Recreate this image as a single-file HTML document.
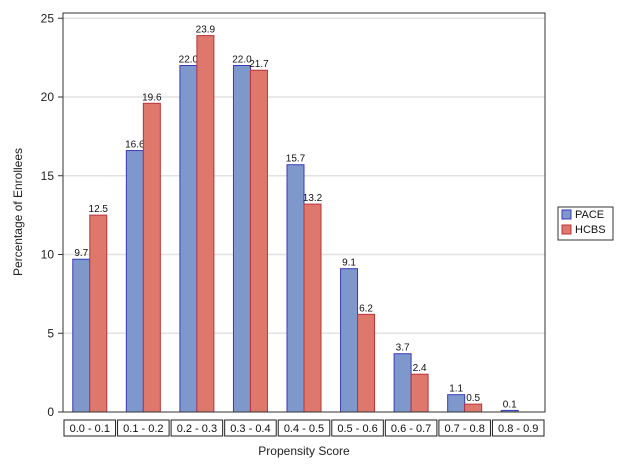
<!DOCTYPE html>
<html><head><meta charset="utf-8"><style>
body{margin:0;background:#fff;font-family:"Liberation Sans",Arial,sans-serif}
svg text{font-family:"Liberation Sans",Arial,sans-serif}
</style></head><body>
<svg id="c" width="626" height="470" xmlns="http://www.w3.org/2000/svg"></svg>
<script>
const categories=["0.0 - 0.1","0.1 - 0.2","0.2 - 0.3","0.3 - 0.4","0.4 - 0.5","0.5 - 0.6","0.6 - 0.7","0.7 - 0.8","0.8 - 0.9"];
const pace=[9.7,16.6,22.0,22.0,15.7,9.1,3.7,1.1,0.1];
const hcbs=[12.5,19.6,23.9,21.7,13.2,6.2,2.4,0.5,0];
const yTicks=[0,5,10,15,20,25];
const svg=document.getElementById('c');
const NS='http://www.w3.org/2000/svg';
const L=63,R=545,T=13,B=412;
const y=v=>B-v*15.75;
const gw=(R-L)/categories.length;
const xc=i=>L+gw*(i+0.5);
function mk(t,a,txt){const e=document.createElementNS(NS,t);for(const k in a)e.setAttribute(k,a[k]);if(txt!==undefined)e.textContent=txt;svg.appendChild(e);return e;}
yTicks.forEach(v=>{
 if(v>0){const g=mk('line',{x1:L,x2:R,y1:y(v),y2:y(v),stroke:'#e2e2e2','stroke-width':1.5});
 
 }
 const t=mk('line',{x1:L-5,x2:L,y1:y(v),y2:y(v),stroke:'#333'});
 
 
 const l=mk('text',{x:L-9,y:y(v)+4,'text-anchor':'end','font-size':12,fill:'#222'},v);
 
 
});
const bw=17;
categories.forEach((c,i)=>{
 const cx=xc(i);
 [[pace[i],'#7f98cc','#3a3ab8',cx-bw,'pace'],[hcbs[i],'#de786c','#b8343a',cx,'hcbs']].forEach(([v,f,s,x,n])=>{
  if(v>0){const r=mk('rect',{x:x,y:y(v),width:bw,height:B-y(v),fill:f,stroke:s,'stroke-width':1});
  
  
  const t=mk('text',{x:x+bw/2,y:y(v)-3,'text-anchor':'middle','font-size':10,fill:'#111'},v.toFixed(1));
  
  }
 });
 const bx=mk('rect',{x:L+gw*i+1,y:420,width:gw-2,height:16,fill:'#fff',stroke:'#222','stroke-width':1});
 
 
 const ct=mk('text',{x:cx,y:432,'text-anchor':'middle','font-size':11,fill:'#111'},c);
 
 
});
const fr=mk('rect',{x:L,y:T,width:R-L,height:B-T,fill:'none',stroke:'#333','stroke-width':1});


const yt=mk('text',{x:0,y:0,transform:'translate(22,212) rotate(-90)','text-anchor':'middle','font-size':12,fill:'#222'},'Percentage of Enrollees');


const xt=mk('text',{x:304,y:455,'text-anchor':'middle','font-size':12,fill:'#222'},'Propensity Score');


const lg=mk('rect',{x:558,y:207,width:55,height:33,fill:'#fff',stroke:'#333'});


[['PACE','#7f98cc','#3a3ab8',214],['HCBS','#de786c','#b8343a',229]].forEach(([n,f,s,yy])=>{
 const sw=mk('rect',{x:562,y:yy-4,width:9,height:9,fill:f,stroke:s});
 
 
 const t=mk('text',{x:575,y:yy+4,'font-size':11,fill:'#111'},n);
 
 
});
</script>
</body></html>
